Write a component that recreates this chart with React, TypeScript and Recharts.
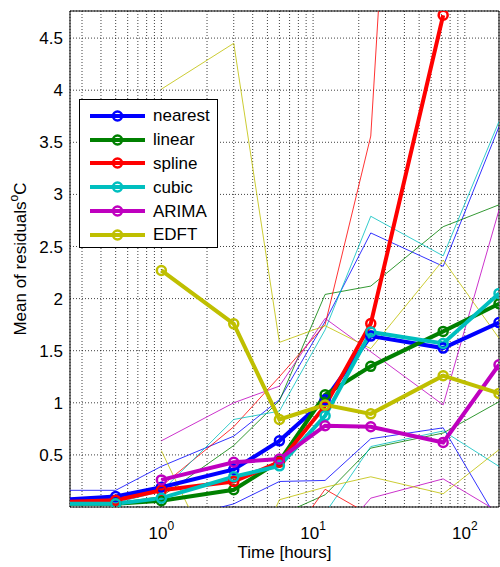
import React from "react";
import { LineChart, Line, XAxis, YAxis, CartesianGrid, Legend, ReferenceArea } from "recharts";

// lead times in hours (log axis)
const hours = [0.25, 0.5, 1, 3, 6, 12, 24, 72, 168];

// mean residuals per method
const nearest = [0.075, 0.1, 0.19, 0.36, 0.635, 1.03, 1.64, 1.525, 1.77];
const linear = [0.03, 0.03, 0.06, 0.165, 0.44, 1.077, 1.35, 1.685, 1.95];
const spline = [0.05, 0.065, 0.16, 0.245, 0.43, 0.97, 1.76, 4.72, null];
const cubic = [0.03, 0.03, 0.085, 0.29, 0.395, 0.875, 1.68, 1.57, 2.05];
const arima = [null, null, 0.26, 0.43, 0.46, 0.78, 0.77, 0.62, 1.365];
const edft = [null, null, 2.27, 1.758, 0.84, 0.98, 0.894, 1.26, 1.09];

// upper / lower bounds (thin lines)
const nearestHi = [0.16, 0.16, 0.39, 0.68, 1.03, 1.78, 2.63, 2.31, 3.65];
const nearestLo = [-0.1, -0.1, -0.15, 0.03, 0.245, 0.255, 0.655, 0.76, -0.15];
const linearHi = [0.04, 0.04, 0.1, 0.59, 1.02, 2.04, 2.12, 2.69, 2.9];
const linearLo = [-0.1, -0.1, -0.2, -0.3, -0.08, 0.117, 0.565, 0.71, 1.01];
const splineHi = [0.06, 0.07, 0.2, 0.77, 1.25, 1.75, 3.56, 15, null];
const splineLo = [-0.1, -0.1, -0.2, -0.3, -0.44, 0.17, -0.08, -1, null];
const cubicHi = [0.04, 0.04, 0.15, 0.84, 0.92, 1.7, 2.79, 2.41, 3.7];
const cubicLo = [-0.1, -0.1, -0.2, -0.3, -0.4, -0.06, 0.58, 0.73, 0.39];
const arimaHi = [null, null, 0.635, 1.0, 1.16, 1.81, 1.49, 0.98, 2.85];
const arimaLo = [null, null, -0.1, -0.15, -0.3, -0.42, 0.085, 0.27, -0.05];
const edftHi = [null, null, 4.01, 4.45, 1.58, 1.74, 1.52, 2.37, 1.62];
const edftLo = [null, null, 0.54, -0.9, 0.07, 0.19, 0.29, 0.127, 0.55];

const yTicks = [0.5, 1, 1.5, 2, 2.5, 3, 3.5, 4, 4.5];
const xGridTicks = [
  0.3, 0.4, 0.5, 0.6, 0.7, 0.8, 0.9, 1, 2, 3, 4, 5, 6, 7, 8, 9,
  10, 20, 30, 40, 50, 60, 70, 80, 90, 100,
];
const xDecades = [1, 10, 100];
const xDecadeExp = ["0", "1", "2"];

const series = [
  { key: "nearest", color: "#0000ff", mean: nearest, hi: nearestHi, lo: nearestLo },
  { key: "linear", color: "#008000", mean: linear, hi: linearHi, lo: linearLo },
  { key: "spline", color: "#ff0000", mean: spline, hi: splineHi, lo: splineLo },
  { key: "cubic", color: "#00bfbf", mean: cubic, hi: cubicHi, lo: cubicLo },
  { key: "ARIMA", color: "#bf00bf", mean: arima, hi: arimaHi, lo: arimaLo },
  { key: "EDFT", color: "#bfbf00", mean: edft, hi: edftHi, lo: edftLo },
];

const data = hours.map((h, i) => {
  const row: Record<string, number | null> = { h };
  series.forEach((s) => {
    row[s.key] = s.mean[i];
    row[s.key + "_hi"] = s.hi[i];
    row[s.key + "_lo"] = s.lo[i];
  });
  return row;
});

const FONT = "'Liberation Sans', Arial, Helvetica, sans-serif";

function XTick(props: any) {
  const { x, y, payload } = props;
  const idx = xDecades.indexOf(payload.value);
  if (idx < 0) return <g />;
  return (
    <text x={x} y={y + 32} textAnchor="middle" fontSize={17} fill="#000" fontFamily={FONT}>
      10
      <tspan dy={-9} fontSize={12}>{xDecadeExp[idx]}</tspan>
    </text>
  );
}

function YLabel(props: any) {
  const vb = props.viewBox || { x: 0, y: 11, width: 70, height: 496 };
  const cx = vb.x + 26;
  const cy = vb.y + vb.height / 2;
  return (
    <text
      x={cx}
      y={cy}
      transform={`rotate(-90, ${cx}, ${cy})`}
      textAnchor="middle"
      fontSize={17}
      fill="#000"
      fontFamily={FONT}
    >
      Mean of residuals
      <tspan dy={-8} fontSize={12}>o</tspan>
      <tspan dy={8}>C</tspan>
    </text>
  );
}

function XLabel(props: any) {
  const vb = props.viewBox || { x: 70, y: 507, width: 429, height: 60 };
  return (
    <text x={vb.x + vb.width / 2} y={vb.y + 51} textAnchor="middle" fontSize={17} fill="#000" fontFamily={FONT}>
      Time [hours]
    </text>
  );
}

// legend keeps the plotting order of the series
function renderLegend() {
  return (
    <div
      style={{
        width: 139,
        height: 149,
        boxSizing: "border-box",
        border: "1px solid #000",
        background: "#fff",
        paddingTop: 4,
        fontFamily: FONT,
      }}
    >
      {series.map((s) => (
        <div key={s.key} style={{ display: "flex", alignItems: "center", height: 23.8 }}>
          <svg width={73} height={14} style={{ display: "block" }}>
            <line x1={10} x2={65} y1={7} y2={7} stroke={s.color} strokeWidth={4} />
            <circle cx={37.5} cy={7} r={4.5} fill="none" stroke={s.color} strokeWidth={2.5} />
          </svg>
          <span style={{ fontSize: 17, lineHeight: 1, color: "#000" }}>{s.key}</span>
        </div>
      ))}
    </div>
  );
}

function makeDot(color: string) {
  return (props: any) => {
    const { cx, cy, payload, index } = props;
    if (payload.h < 0.5 || cy == null) return <g key={`d-${index}`} />;
    return (
      <circle key={`d-${index}`} cx={cx} cy={cy} r={4.5} fill="none" stroke={color} strokeWidth={2.5} />
    );
  };
}

export default function App() {
  return (
    <div style={{ position: "absolute", left: 0, top: 0, width: 500, height: 567, background: "#fff", fontFamily: FONT }}>
      <LineChart width={500} height={567} data={data} margin={{ top: 11, right: 1, left: 0, bottom: 0 }}>
        <CartesianGrid stroke="#000" strokeOpacity={0.75} strokeDasharray="1 2" />
        <XAxis
          dataKey="h"
          type="number"
          scale="log"
          domain={[0.25, 168]}
          allowDataOverflow
          ticks={xGridTicks}
          interval={0}
          tick={<XTick />}
          tickSize={0}
          tickMargin={0}
          tickLine={false}
          axisLine={false}
          height={60}
          label={<XLabel />}
        />
        <YAxis
          type="number"
          domain={[0, 4.76]}
          allowDataOverflow
          ticks={yTicks}
          interval={0}
          width={70}
          tickSize={0}
          tickMargin={7}
          tickLine={false}
          axisLine={false}
          tick={{ fill: "#000", fontSize: 17, fontFamily: FONT }}
          label={<YLabel />}
        />
        {series.map((s) => (
          <Line
            key={s.key + "_hi"}
            dataKey={s.key + "_hi"}
            stroke={s.color}
            strokeOpacity={0.8}
            strokeWidth={1}
            dot={false}
            activeDot={false}
            legendType="none"
            isAnimationActive={false}
          />
        ))}
        {series.map((s) => (
          <Line
            key={s.key + "_lo"}
            dataKey={s.key + "_lo"}
            stroke={s.color}
            strokeOpacity={0.8}
            strokeWidth={1}
            dot={false}
            activeDot={false}
            legendType="none"
            isAnimationActive={false}
          />
        ))}
        {series.map((s) => (
          <Line
            key={s.key}
            dataKey={s.key}
            name={s.key}
            stroke={s.color}
            strokeWidth={4}
            dot={makeDot(s.color)}
            activeDot={false}
            isAnimationActive={false}
          />
        ))}
        <ReferenceArea x1={0.25} x2={168} y1={0} y2={4.76} fill="none" stroke="#000" strokeWidth={1} />
        <Legend
          layout="vertical"
          align="center"
          verticalAlign="middle"
          content={renderLegend}
          wrapperStyle={{ left: 79, top: 99, width: 139, height: 149 }}
        />
      </LineChart>
    </div>
  );
}
